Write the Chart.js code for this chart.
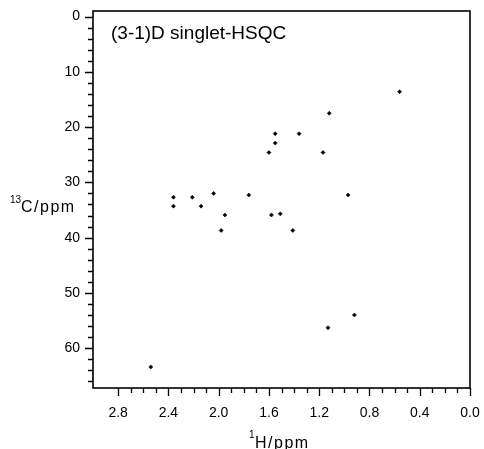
<!DOCTYPE html>
<html>
<head>
<meta charset="utf-8">
<script src="https://cdn.jsdelivr.net/npm/chart.js@4/dist/chart.umd.min.js"></script>
<style>
    html, body { margin: 0; padding: 0; background: #fff; }
    #wrap { width: 484px; height: 449px; }
</style>
</head>
<body>
<div id="wrap"><canvas id="chart"></canvas></div>
<script>
// cross peaks: 1H shift (ppm), 13C shift (ppm)
const H_PPM = [0.56, 1.12, 1.55, 1.36, 1.55, 1.60, 1.17,
    2.36, 2.36, 2.21, 2.14, 2.04, 1.98, 1.95, 1.76, 1.58, 1.51, 1.41, 0.97, 1.13, 0.92, 2.54];
const C_PPM = [13.6, 17.5, 21.2, 21.2, 22.9, 24.6, 24.6,
    32.7, 34.3, 32.7, 34.3, 32.0, 38.7, 35.9, 32.3, 35.9, 35.7, 38.7, 32.3, 56.3, 54.0, 63.4];

const X_TICKS = [2.8, 2.4, 2.0, 1.6, 1.2, 0.8, 0.4, 0.0];
const Y_TICKS = [0, 10, 20, 30, 40, 50, 60];

const TITLE = '(3-1)D singlet-HSQC';
const FONT = '"Liberation Sans", Arial, Helvetica, sans-serif';

const points = H_PPM.map((h, i) => ({ x: h, y: C_PPM[i] }));

// no extra room for overhanging tick labels, the frame is placed by hand
function fixSize(s, key, size) {
    s[key] = size;
    s.paddingLeft = s.paddingRight = s.paddingTop = s.paddingBottom = 0;
}

// frame, minor/major tick marks and axis titles
const decorations = {
    id: 'decorations',
    afterDraw(chart) {
        const ctx = chart.ctx;
        const area = chart.chartArea;
        const xs = chart.scales.x;
        const ys = chart.scales.y;
        ctx.save();
        ctx.strokeStyle = '#000';
        ctx.lineWidth = 1.6;
        ctx.strokeRect(area.left, area.top, area.right - area.left, area.bottom - area.top);

        ctx.lineWidth = 1.3;
        ctx.beginPath();
        for (let i = 0; i <= 28; i++) {
            const px = Math.round(xs.getPixelForValue(i / 10)) + 0.5;
            const len = i % 4 === 0 ? 8 : 5;
            ctx.moveTo(px, area.bottom);
            ctx.lineTo(px, area.bottom + len);
        }
        for (let v = 0; v <= 66; v += 2) {
            const py = Math.round(ys.getPixelForValue(v)) + 0.5;
            const len = v % 10 === 0 ? 8 : 5;
            ctx.moveTo(area.left, py);
            ctx.lineTo(area.left - len, py);
        }
        ctx.stroke();

        ctx.fillStyle = '#000';
        ctx.textBaseline = 'alphabetic';
        ctx.textAlign = 'left';
        ctx.font = '19px ' + FONT;
        ctx.fillText(TITLE, area.left + 18, 39);

        // 1H/ppm
        ctx.font = '10px ' + FONT;
        ctx.fillText('1', 249, 438);
        ctx.letterSpacing = '1.5px';
        ctx.font = '16px ' + FONT;
        ctx.fillText('H/ppm', 255, 448);

        // 13C/ppm
        ctx.letterSpacing = '0px';
        ctx.font = '10px ' + FONT;
        ctx.fillText('13', 10, 203);
        ctx.letterSpacing = '1.5px';
        ctx.font = '16px ' + FONT;
        ctx.fillText('C/ppm', 21, 212);
        ctx.restore();
    }
};

new Chart(document.getElementById('chart'), {
    type: 'scatter',
    data: {
        datasets: [{
            data: points,
            pointStyle: 'rectRot',
            pointRadius: 2,
            pointHoverRadius: 2,
            backgroundColor: '#000',
            borderColor: '#000',
            borderWidth: 0.6
        }]
    },
    options: {
        responsive: true,
        maintainAspectRatio: false,
        animation: false,
        events: [],
        layout: { padding: { left: 0, right: 14, top: 11, bottom: 0 } },
        plugins: {
            legend: { display: false },
            tooltip: { enabled: false }
        },
        scales: {
            x: {
                type: 'linear',
                min: 0,
                max: 3.0,
                reverse: true,
                afterBuildTicks: s => { s.ticks = X_TICKS.map(v => ({ value: v })); },
                afterFit: s => fixSize(s, 'height', 61),
                grid: { display: false, drawTicks: false },
                border: { display: false },
                ticks: {
                    padding: 17,
                    maxRotation: 0,
                    autoSkip: false,
                    color: '#000',
                    font: { family: FONT, size: 14 },
                    callback: v => Number(v).toFixed(1)
                }
            },
            y: {
                type: 'linear',
                min: -1,
                max: 67.2,
                reverse: true,
                afterBuildTicks: s => { s.ticks = Y_TICKS.map(v => ({ value: v })); },
                afterFit: s => fixSize(s, 'width', 93),
                grid: { display: false, drawTicks: false },
                border: { display: false },
                ticks: {
                    padding: 13,
                    autoSkip: false,
                    color: '#000',
                    font: { family: FONT, size: 14 },
                    callback: v => String(v)
                }
            }
        }
    },
    plugins: [decorations]
});
</script>
</body>
</html>
